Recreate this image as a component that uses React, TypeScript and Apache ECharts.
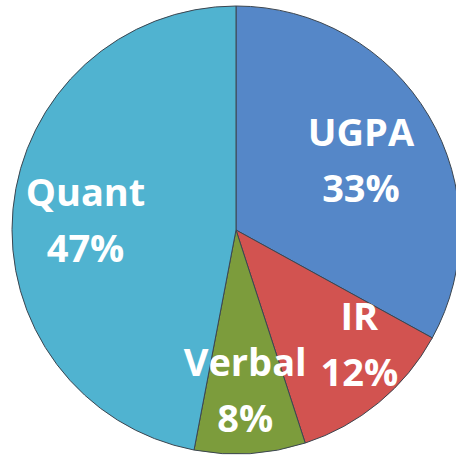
import React, { useEffect, useRef } from "react";
import * as echarts from "echarts";

const categories = ["UGPA", "IR", "Verbal", "Quant"];
const values = [33, 12, 8, 47];
const colors = ["#5587C8", "#D25350", "#7C9C3C", "#50B3D0"];
const labelOffsets = [
  [26, -12],
  [50, 24],
  [2, 44],
  [-36, 0],
];

export default function App() {
  const ref = useRef<HTMLDivElement>(null);
  useEffect(() => {
    if (!ref.current) return;
    const chart = echarts.init(ref.current, null, { renderer: "svg" });
    chart.setOption({
      animation: false,
      backgroundColor: "#ffffff",
      series: [
        {
          type: "pie",
          center: [236, 230],
          radius: 224,
          startAngle: 90,
          clockwise: true,
          avoidLabelOverlap: false,
          itemStyle: { borderColor: "#3c4650", borderWidth: 1 },
          label: {
            show: true,
            position: "inside",
            formatter: "{b}\n{d}%",
            color: "#ffffff",
            fontFamily: "Open Sans",
            fontWeight: "bold",
            fontSize: 38,
            lineHeight: 56,
            align: "center",
          },
          labelLine: { show: false },
          labelLayout: (p: any) => ({
            dx: labelOffsets[p.dataIndex][0],
            dy: labelOffsets[p.dataIndex][1],
          }),
          emphasis: { disabled: true },
          data: categories.map((c, i) => ({
            name: c,
            value: values[i],
            itemStyle: { color: colors[i] },
          })),
        },
      ],
    });
    return () => chart.dispose();
  }, []);
  return <div ref={ref} style={{ width: 456, height: 456, position: "absolute", left: 0, top: 0 }} />;
}
